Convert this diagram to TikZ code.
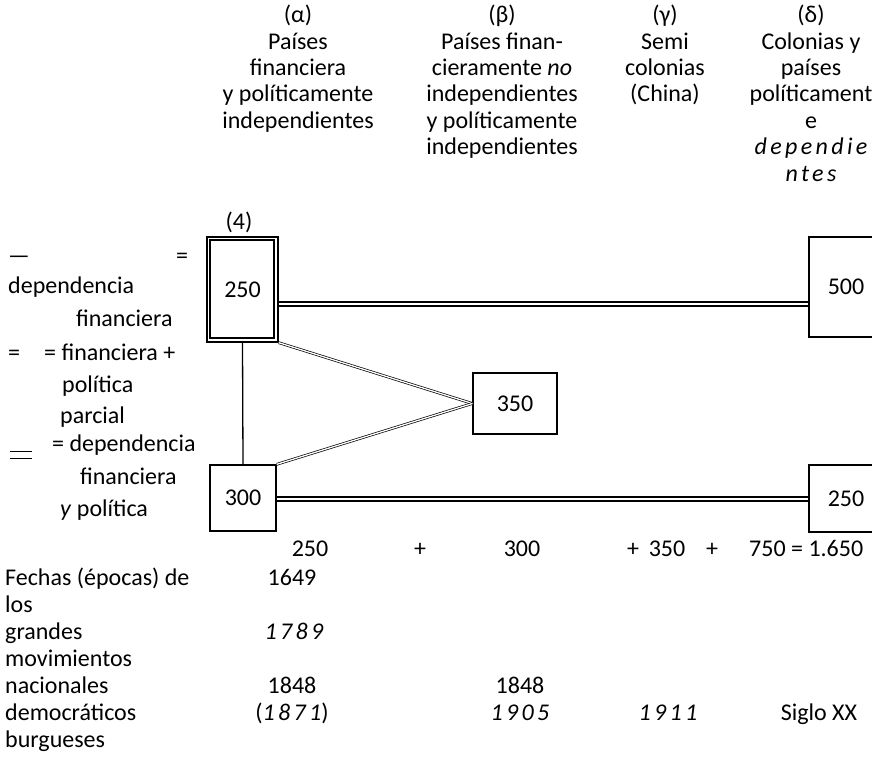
\documentclass[tikz,border=0pt]{standalone}
\usepackage{fontspec}
\setmainfont{Carlito}
\usetikzlibrary{positioning}
\newcommand\spacedit[1]{{\itshape\addfontfeature{LetterSpace=14}#1}}
\tikzset{
  txt/.style={inner sep=0pt,text height=16pt,text depth=5pt},
  head/.style={align=center,anchor=north,inner sep=0pt},
  box/.style={draw,line width=1.3pt,inner sep=0pt},
  thickdouble/.style={draw,line width=2pt,double=white,double distance=2pt},
  thindouble/.style={draw,line width=0.7pt,double=white,double distance=1.3pt},
}
\begin{document}
\begin{tikzpicture}[x=1pt,y=-1pt,every node/.style={font=\fontsize{24}{26.4}\selectfont}]
        \useasboundingbox (0,0) rectangle (872,767);
        %
        \node[head] (alpha) at (298,5) {(α)\\Países\\financiera\\y políticamente\\independientes};
        \node[head] (beta) at (502,5) {(β)\\Países finan-\\cieramente \textit{no}\\independientes\\y políticamente\\independientes};
        \node[head] (gamma) at (665,5) {(γ)\\Semi\\colonias\\(China)};
        \node[head] (delta) at (811,5) {(δ)\\Colonias y\\países\\políticament\\e\\\spacedit{dependie}\\\spacedit{ntes}};
        %
        \node[box,minimum width=71pt,minimum height=105pt] (b250) at (242.5,289.5) {250};
        \draw[line width=2.2pt] ([shift={(4,4)}]b250.north west) rectangle ([shift={(-4.5,-4.5)}]b250.south east);
        \node[txt] (four) at (239,224) {(4)};
        \node[box,minimum width=66pt,minimum height=66pt] (b300) at (243,498) {300};
        \node[box,minimum width=84pt,minimum height=61pt] (b350) at (515,403.5) {350};
        \node[box,minimum width=74pt,minimum height=100pt] (b500) at (846,287) {500};
        \node[box,minimum width=74pt,minimum height=67pt] (b250d) at (846,498.5) {250};
        %
        \coordinate (upper) at (0,304);
        \coordinate (lower) at (0,499);
        \draw[thickdouble] (b250.east |- upper) -- (b500.west |- upper);
        \draw[thickdouble] (b300.east |- lower) -- (b250d.west |- lower);
        \draw[line width=1.3pt] (b250.south) -- (b300.north);
        \draw[thindouble] (b250.south east) -- (b350.west);
        \draw[thindouble] (b300.north east) -- (b350.west);
        %
        \node[txt,anchor=west] (keyA) at (8,258) {—};
        \node[txt] (keyAeq) at (182,258) {=};
        \node[txt,anchor=west] (keyB) at (8,288) {dependencia};
        \node[txt,anchor=west] (keyC) at (76,321) {financiera};
        \node[txt] (keyDeq) at (14,355) {=};
        \node[txt,anchor=west] (keyD) at (44,355) {= financiera +};
        \node[txt,anchor=west] (keyE) at (62,387) {política};
        \node[txt,anchor=west] (keyF) at (60,418) {parcial};
        \draw[line width=0.9pt] (10,451) -- (32,451);
        \draw[line width=0.9pt] (10,458) -- (32,458);
        \node[txt,anchor=west] (keyG) at (52,446) {= dependencia};
        \node[txt,anchor=west] (keyH) at (80,479) {financiera};
        \node[txt,anchor=west] (keyI) at (60,511) {\textit{y} política};
        %
        \node[txt] (s1) at (310,551) {250};
        \node[txt] (p1) at (420,551) {+};
        \node[txt] (s2) at (522,551) {300};
        \node[txt] (p2) at (633,551) {+};
        \node[txt] (s3) at (667,551) {350};
        \node[txt] (p3) at (712,551) {+};
        \node[txt,anchor=west] (total) at (749,551) {750 = 1.650};
        %
        \node[txt,anchor=west] (f1) at (5,580) {Fechas (épocas) de};
        \node[txt,anchor=west] (f2) at (5,607) {los};
        \node[txt,anchor=west] (f3) at (5,634) {grandes};
        \node[txt,anchor=west] (f4) at (5,661) {movimientos};
        \node[txt,anchor=west] (f5) at (5,688) {nacionales};
        \node[txt,anchor=west] (f6) at (5,715) {democráticos};
        \node[txt,anchor=west] (f7) at (5,742) {burgueses};
        %
        \node[txt] (d1649) at (292,580) {1649};
        \node[txt] (d1789) at (294,634) {\spacedit{1789}};
        \node[txt] (d1848a) at (292,688) {1848};
        \node[txt] (d1871) at (292,715) {(\spacedit{1871})};
        \node[txt] (d1848b) at (520,688) {1848};
        \node[txt] (d1905) at (520,715) {\spacedit{1905}};
        \node[txt] (d1911) at (668,715) {\spacedit{1911}};
        \node[txt] (siglo) at (819,715) {Siglo XX};
        %
    \end{tikzpicture}
\end{document}
